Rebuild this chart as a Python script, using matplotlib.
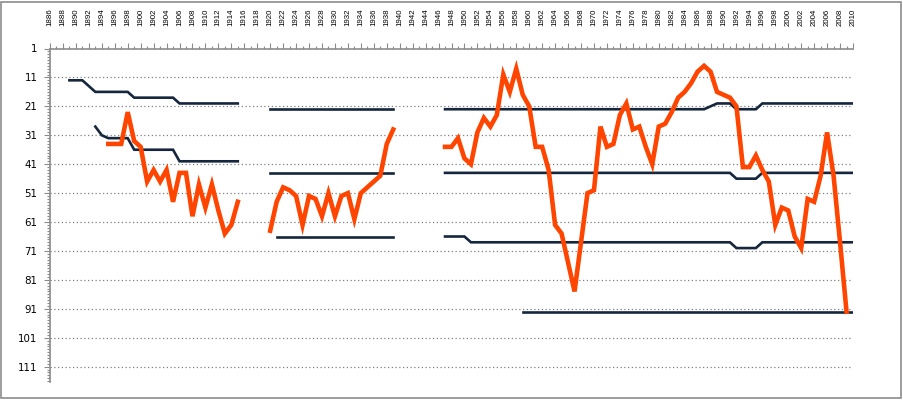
import numpy as np
import matplotlib.pyplot as plt
from matplotlib.patches import Rectangle
from matplotlib.ticker import MultipleLocator, FixedLocator

# league position of the club, three eras
years_pre = list(range(1895, 1916))
pos_pre = [34, 34, 34, 23, 33, 35, 47, 43, 47, 43, 54, 44, 44, 59, 48, 56, 48, 57, 65, 62, 54]

years_mid = list(range(1920, 1940))
pos_mid = [64, 54, 49, 50, 52, 62, 52, 53, 59, 51, 59, 52, 51, 60, 51, 49, 47, 45, 34, 29]

years_post = list(range(1947, 2010))
pos_post = [35, 35, 32, 39, 41, 30, 25, 28, 24, 10,
            16, 8, 17, 21, 35, 35, 43, 62, 65, 75,
            85, 68, 51, 50, 28, 35, 34, 24, 20, 29,
            28, 35, 41, 28, 27, 23, 18, 16, 13, 9,
            7, 9, 16, 17, 18, 21, 42, 42, 38, 43,
            47, 62, 56, 57, 66, 70, 53, 54, 45, 30,
            45, 68, 92]

# division boundaries (cumulative number of clubs)
yrs_b1 = list(range(1889, 1916))
div1_pre = [12, 12, 12, 14, 16, 16, 16, 16, 16, 16, 18, 18, 18, 18, 18, 18, 18,
            20, 20, 20, 20, 20, 20, 20, 20, 20, 20]
yrs_b2 = list(range(1893, 1916))
div2_pre = [28, 31, 32, 32, 32, 32, 36, 36, 36, 36, 36, 36, 36,
            40, 40, 40, 40, 40, 40, 40, 40, 40, 40]

yrs_m = list(range(1920, 1940))
div1_mid = [22] * 20
div2_mid = [44] * 20
yrs_m3 = list(range(1921, 1940))
div3_mid = [66] * 19

yrs_p = list(range(1947, 2011))
div1_post = [22] * 41 + [21] + [20] * 3 + [22] * 4 + [20] * 15
div2_post = [44] * 45 + [46] * 4 + [44] * 15
div3_post = [66] * 4 + [68] * 41 + [70] * 4 + [68] * 15
yrs_p4 = list(range(1959, 2011))
div4_post = [92] * 52

orange = '#ff4500'
navy = '#15263d'

fig = plt.figure(figsize=(9.04, 4.0), dpi=100)
ax = fig.add_axes([50 / 904, 18.3 / 400, 803 / 904, 333.2 / 400])

for yy, vv in [(yrs_b1, div1_pre), (yrs_b2, div2_pre), (yrs_m, div1_mid),
               (yrs_m, div2_mid), (yrs_m3, div3_mid), (yrs_p, div1_post),
               (yrs_p, div2_post), (yrs_p, div3_post), (yrs_p4, div4_post)]:
    ax.plot(yy, vv, '-', c=navy, lw=1.9, solid_joinstyle='miter', zorder=3)

for yy, vv in [(years_pre, pos_pre), (years_mid, pos_mid), (years_post, pos_post)]:
    ax.plot(yy, vv, '-', c=orange, lw=3.3, solid_joinstyle='miter', zorder=4)

ax.set_xlim(1886, 2010)
ax.set_ylim(116.2, 1)

ax.yaxis.set_major_locator(FixedLocator(list(range(1, 112, 10))))
ax.yaxis.set_minor_locator(MultipleLocator(1))
ax.xaxis.set_major_locator(FixedLocator(list(range(1886, 2011, 2))))
ax.xaxis.set_minor_locator(MultipleLocator(1))

for y in range(11, 112, 10):
    ax.axhline(y, color='#808080', lw=0.9, ls=(0, (1, 2)), zorder=1)

ax.xaxis.tick_top()
ax.tick_params(axis='x', which='major', length=4, width=0.8, color='#8c8c8c',
               labelsize=5.7, labelrotation=90, pad=12)
ax.tick_params(axis='x', which='minor', length=2, width=0.8, color='#8c8c8c')
ax.tick_params(axis='y', which='major', length=4, width=0.8, color='#8c8c8c',
               labelsize=7.4, pad=5)
ax.tick_params(axis='y', which='minor', length=2.5, width=0.8, color='#8c8c8c')
for lab in ax.get_xticklabels():
    lab.set_family('Liberation Sans')
    lab.set_color('black')

for s in ['right', 'bottom']:
    ax.spines[s].set_visible(False)
for s in ['left', 'top']:
    ax.spines[s].set_color('#8c8c8c')
    ax.spines[s].set_linewidth(1.2)

fig.patches.append(Rectangle((1.5 / 904, 2.5 / 400), 900 / 904, 395.5 / 400,
                             transform=fig.transFigure, fill=False,
                             edgecolor='#8c8c8c', lw=1.2))

fig.savefig('out.png', dpi=100)
